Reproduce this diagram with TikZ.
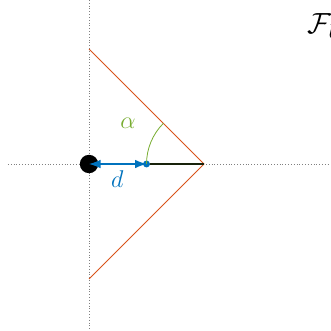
\documentclass[tikz,border=0pt]{standalone}
\usepackage{amsmath, amssymb}
\usepackage{xcolor}
\usetikzlibrary{arrows.meta, positioning, calc}
\definecolor{mblue}{RGB}{0,114,189}
\definecolor{morange}{RGB}{217,83,25}
\definecolor{mgreen}{RGB}{119,172,48}

\begin{document}
\begin{tikzpicture}[
    axis/.style={densely dotted, gray, thin},
    wall/.style={morange, thin},
    body/.style={circle, fill=black, inner sep=0pt, minimum size=0.32cm},
    probe/.style={circle, fill=mblue, inner sep=0pt, minimum size=0.12cm},
    lbl/.style={font=\large, inner sep=0pt},
    >=Latex
]
    \useasboundingbox (-1.548,-2.904) rectangle (4.191,2.852);

    % Axes
    \coordinate (xl) at (-1.41,0);
    \coordinate (xr) at (4.191,0);
    \coordinate (yt) at (0,2.852);
    \coordinate (yb) at (0,-2.904);
    \draw[axis] (xl) -- (xr);
    \draw[axis] (yt) -- (yb);

    % Wedge
    \coordinate (apex) at (2,0);
    \coordinate (top) at (0,2);
    \coordinate (bot) at (0,-2);
    \draw[wall] (top) -- (apex) -- (bot);

    % Points
    \node[body] (o) at (0,0) {};
    \node[probe] (p) at (1,0) {};
    \draw[black!80!mgreen, semithick] (p) -- (apex);
    \draw[<->, mblue, semithick] (o.center) -- (p.center);

    % Angle
    \draw[mgreen] (p.center) arc[start angle=180, end angle=135, radius=1];

    % Labels
    \node[lbl, mgreen] (alpha) at (0.68,0.70) {$\alpha$};
    \node[lbl, mblue] (dlab) at (0.49,-0.26) {$d$};
    \node[lbl, font=\Large, anchor=west] (frame) at (3.80,2.40) {$\mathcal{F}_b$};
\end{tikzpicture}
\end{document}
